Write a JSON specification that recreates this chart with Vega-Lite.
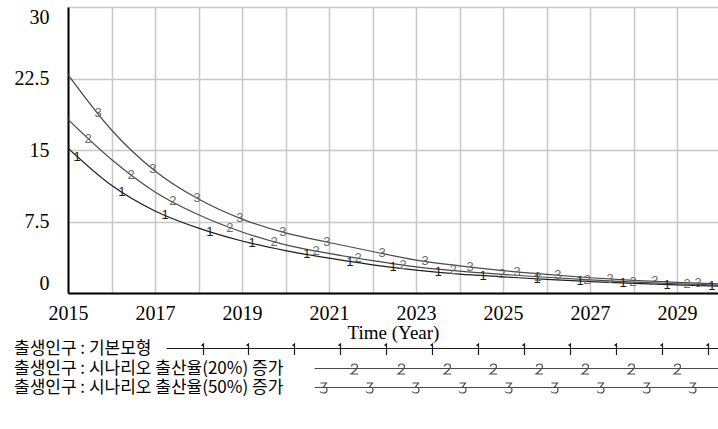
{
  "$schema": "https://vega.github.io/schema/vega-lite/v6.json",
  "autosize": "none",
  "width": 650,
  "height": 286,
  "padding": {"left": 68, "top": 7, "right": 0, "bottom": 136},
  "background": "white",
  "config": {
    "view": {"stroke": null},
    "style": {"guide-title": {"fontWeight": "normal"}},
    "axis": {
      "labelFont": "Liberation Serif",
      "labelFontSize": 20,
      "labelColor": "black",
      "titleFont": "Liberation Serif",
      "titleFontSize": 19,
      "titleFontWeight": 400,
      "titleColor": "black",
      "grid": true,
      "gridColor": "#c8c8c8",
      "gridWidth": 1.5,
      "ticks": false,
      "domainColor": "black",
      "domainWidth": 2
    }
  },
  "datasets": {
    "lines": [
      {"series": "출생인구 : 기본모형", "year": 2015, "value": 15.2},
      {"series": "출생인구 : 기본모형", "year": 2016, "value": 11.3},
      {"series": "출생인구 : 기본모형", "year": 2017, "value": 8.6},
      {"series": "출생인구 : 기본모형", "year": 2018, "value": 6.8},
      {"series": "출생인구 : 기본모형", "year": 2019, "value": 5.45},
      {"series": "출생인구 : 기본모형", "year": 2020, "value": 4.45},
      {"series": "출생인구 : 기본모형", "year": 2021, "value": 3.65},
      {"series": "출생인구 : 기본모형", "year": 2022, "value": 2.95},
      {"series": "출생인구 : 기본모형", "year": 2023, "value": 2.4},
      {"series": "출생인구 : 기본모형", "year": 2024, "value": 1.98},
      {"series": "출생인구 : 기본모형", "year": 2025, "value": 1.7},
      {"series": "출생인구 : 기본모형", "year": 2026, "value": 1.42},
      {"series": "출생인구 : 기본모형", "year": 2027, "value": 1.2},
      {"series": "출생인구 : 기본모형", "year": 2028, "value": 1.0},
      {"series": "출생인구 : 기본모형", "year": 2029, "value": 0.85},
      {"series": "출생인구 : 기본모형", "year": 2030, "value": 0.72},
      {"series": "출생인구 : 시나리오 출산율(20%) 증가", "year": 2015, "value": 18.2},
      {"series": "출생인구 : 시나리오 출산율(20%) 증가", "year": 2016, "value": 14.0},
      {"series": "출생인구 : 시나리오 출산율(20%) 증가", "year": 2017, "value": 10.6},
      {"series": "출생인구 : 시나리오 출산율(20%) 증가", "year": 2018, "value": 8.2},
      {"series": "출생인구 : 시나리오 출산율(20%) 증가", "year": 2019, "value": 6.4},
      {"series": "출생인구 : 시나리오 출산율(20%) 증가", "year": 2020, "value": 5.05},
      {"series": "출생인구 : 시나리오 출산율(20%) 증가", "year": 2021, "value": 4.15},
      {"series": "출생인구 : 시나리오 출산율(20%) 증가", "year": 2022, "value": 3.4},
      {"series": "출생인구 : 시나리오 출산율(20%) 증가", "year": 2023, "value": 2.75},
      {"series": "출생인구 : 시나리오 출산율(20%) 증가", "year": 2024, "value": 2.3},
      {"series": "출생인구 : 시나리오 출산율(20%) 증가", "year": 2025, "value": 1.95},
      {"series": "출생인구 : 시나리오 출산율(20%) 증가", "year": 2026, "value": 1.65},
      {"series": "출생인구 : 시나리오 출산율(20%) 증가", "year": 2027, "value": 1.38},
      {"series": "출생인구 : 시나리오 출산율(20%) 증가", "year": 2028, "value": 1.15},
      {"series": "출생인구 : 시나리오 출산율(20%) 증가", "year": 2029, "value": 0.97},
      {"series": "출생인구 : 시나리오 출산율(20%) 증가", "year": 2030, "value": 0.82},
      {"series": "출생인구 : 시나리오 출산율(50%) 증가", "year": 2015, "value": 22.9},
      {"series": "출생인구 : 시나리오 출산율(50%) 증가", "year": 2016, "value": 17.1},
      {"series": "출생인구 : 시나리오 출산율(50%) 증가", "year": 2017, "value": 12.8},
      {"series": "출생인구 : 시나리오 출산율(50%) 증가", "year": 2018, "value": 9.85},
      {"series": "출생인구 : 시나리오 출산율(50%) 증가", "year": 2019, "value": 7.75},
      {"series": "출생인구 : 시나리오 출산율(50%) 증가", "year": 2020, "value": 6.3},
      {"series": "출생인구 : 시나리오 출산율(50%) 증가", "year": 2021, "value": 5.3},
      {"series": "출생인구 : 시나리오 출산율(50%) 증가", "year": 2022, "value": 4.35},
      {"series": "출생인구 : 시나리오 출산율(50%) 증가", "year": 2023, "value": 3.45},
      {"series": "출생인구 : 시나리오 출산율(50%) 증가", "year": 2024, "value": 2.85},
      {"series": "출생인구 : 시나리오 출산율(50%) 증가", "year": 2025, "value": 2.35},
      {"series": "출생인구 : 시나리오 출산율(50%) 증가", "year": 2026, "value": 1.95},
      {"series": "출생인구 : 시나리오 출산율(50%) 증가", "year": 2027, "value": 1.6},
      {"series": "출생인구 : 시나리오 출산율(50%) 증가", "year": 2028, "value": 1.33},
      {"series": "출생인구 : 시나리오 출산율(50%) 증가", "year": 2029, "value": 1.12},
      {"series": "출생인구 : 시나리오 출산율(50%) 증가", "year": 2030, "value": 0.95}
    ],
    "markers": [
      {"no": 1, "year": 2015.21, "value": 14.3},
      {"no": 1, "year": 2016.24, "value": 10.6},
      {"no": 1, "year": 2017.23, "value": 8.15},
      {"no": 1, "year": 2018.26, "value": 6.45},
      {"no": 1, "year": 2019.23, "value": 5.2},
      {"no": 1, "year": 2020.49, "value": 4.05},
      {"no": 1, "year": 2021.48, "value": 3.3},
      {"no": 1, "year": 2022.47, "value": 2.7},
      {"no": 1, "year": 2023.51, "value": 2.2},
      {"no": 1, "year": 2024.54, "value": 1.83},
      {"no": 1, "year": 2025.78, "value": 1.48},
      {"no": 1, "year": 2026.77, "value": 1.25},
      {"no": 1, "year": 2027.76, "value": 1.04},
      {"no": 1, "year": 2028.77, "value": 0.88},
      {"no": 1, "year": 2029.8, "value": 0.75},
      {"no": 2, "year": 2015.46, "value": 16.2},
      {"no": 2, "year": 2016.45, "value": 12.4},
      {"no": 2, "year": 2017.41, "value": 9.6},
      {"no": 2, "year": 2018.72, "value": 6.85},
      {"no": 2, "year": 2019.74, "value": 5.4},
      {"no": 2, "year": 2020.7, "value": 4.4},
      {"no": 2, "year": 2021.67, "value": 3.65},
      {"no": 2, "year": 2022.7, "value": 2.95},
      {"no": 2, "year": 2023.85, "value": 2.37},
      {"no": 2, "year": 2024.98, "value": 1.96},
      {"no": 2, "year": 2025.8, "value": 1.7},
      {"no": 2, "year": 2026.93, "value": 1.4},
      {"no": 2, "year": 2027.99, "value": 1.15},
      {"no": 2, "year": 2029.23, "value": 0.93},
      {"no": 3, "year": 2015.69, "value": 18.9},
      {"no": 3, "year": 2016.95, "value": 13.0},
      {"no": 3, "year": 2017.97, "value": 9.95},
      {"no": 3, "year": 2018.95, "value": 7.85},
      {"no": 3, "year": 2019.94, "value": 6.38},
      {"no": 3, "year": 2020.95, "value": 5.35},
      {"no": 3, "year": 2022.22, "value": 4.15},
      {"no": 3, "year": 2023.21, "value": 3.32},
      {"no": 3, "year": 2024.24, "value": 2.73},
      {"no": 3, "year": 2025.32, "value": 2.22},
      {"no": 3, "year": 2026.26, "value": 1.85},
      {"no": 3, "year": 2027.46, "value": 1.48},
      {"no": 3, "year": 2028.49, "value": 1.22},
      {"no": 3, "year": 2029.48, "value": 1.04}
    ]
  },
  "encoding": {
    "x": {
      "field": "year",
      "type": "quantitative",
      "scale": {"domain": [2015, 2029.94], "nice": false, "zero": false},
      "axis": {
        "title": "Time (Year)",
        "titleFontWeight": 400,
        "titleFont": "Liberation Serif",
        "titleFontSize": 19,
        "values": [2015, 2016, 2017, 2018, 2019, 2020, 2021, 2022, 2023, 2024, 2025, 2026, 2027, 2028, 2029],
        "labelExpr": "datum.value % 2 == 1 ? '' + datum.value : ''",
        "labelOverlap": false,
        "labelFlush": false,
        "labelPadding": 10,
        "titlePadding": 0
      }
    },
    "y": {
      "field": "value",
      "type": "quantitative",
      "scale": {"domain": [0, 30], "nice": false},
      "axis": {
        "title": null,
        "values": [0, 7.5, 15, 22.5, 30],
        "labelExpr": "'' + datum.value",
        "labelFlush": true,
        "labelOverlap": false,
        "labelPadding": 19
      }
    }
  },
  "layer": [
    {
      "data": {"values": [{}]},
      "mark": {"type": "rule", "color": "#1a1a1a", "strokeWidth": 2},
      "encoding": {"x": null, "y": {"datum": 30, "type": "quantitative"}}
    },
    {
      "data": {"name": "lines"},
      "mark": {"type": "line", "interpolate": "monotone", "clip": true, "strokeWidth": 1.2},
      "encoding": {
        "color": {
          "field": "series",
          "type": "nominal",
          "scale": {
            "domain": ["출생인구 : 기본모형", "출생인구 : 시나리오 출산율(20%) 증가", "출생인구 : 시나리오 출산율(50%) 증가"],
            "range": ["#1e1e1e", "#4a4a4a", "#4a4a4a"]
          },
          "legend": {
            "orient": "none",
            "legendX": -68,
            "legendY": 333,
            "title": null,
            "direction": "vertical",
            "padding": 0,
            "symbolSize": 4,
            "symbolStrokeWidth": 1.2,
            "labelFont": "Noto Sans CJK KR",
            "labelFontSize": 17,
            "labelColor": "black",
            "labelLimit": 600,
            "labelOffset": -3,
            "rowPadding": 1,
            "encode": {
              "symbols": {
                "update": {
                  "fill": {"value": "transparent"},
                  "shape": {"signal": "datum.value === '출생인구 : 기본모형' ? 'M158,0H720M193,-3L195,-4.5V6.5M238,-3L240,-4.5V6.5M284,-3L286,-4.5V6.5M330,-3L332,-4.5V6.5M376,-3L378,-4.5V6.5M422,-3L424,-4.5V6.5M468,-3L470,-4.5V6.5M514,-3L516,-4.5V6.5M560,-3L562,-4.5V6.5M606,-3L608,-4.5V6.5M652,-3L654,-4.5V6.5M698,-3L700,-4.5V6.5' : datum.value === '출생인구 : 시나리오 출산율(20%) 증가' ? 'M306,0H720M343,-2Q343,-4.5,346,-4.5Q349,-4.5,349,-2Q349,0.5,342.5,5.5H349.5M390,-2Q390,-4.5,393,-4.5Q396,-4.5,396,-2Q396,0.5,389.5,5.5H396.5M436,-2Q436,-4.5,439,-4.5Q442,-4.5,442,-2Q442,0.5,435.5,5.5H442.5M482,-2Q482,-4.5,485,-4.5Q488,-4.5,488,-2Q488,0.5,481.5,5.5H488.5M528,-2Q528,-4.5,531,-4.5Q534,-4.5,534,-2Q534,0.5,527.5,5.5H534.5M574,-2Q574,-4.5,577,-4.5Q580,-4.5,580,-2Q580,0.5,573.5,5.5H580.5M620,-2Q620,-4.5,623,-4.5Q626,-4.5,626,-2Q626,0.5,619.5,5.5H626.5M666,-2Q666,-4.5,669,-4.5Q672,-4.5,672,-2Q672,0.5,665.5,5.5H672.5M712,-2Q712,-4.5,715,-4.5Q718,-4.5,718,-2Q718,0.5,711.5,5.5H718.5' : 'M306,0H720M312,-4.5H318L315,-0.5Q318.5,-0.5,318.5,2.5Q318.5,5.5,315,5.5Q312.5,5.5,311.5,4M358,-4.5H364L361,-0.5Q364.5,-0.5,364.5,2.5Q364.5,5.5,361,5.5Q358.5,5.5,357.5,4M404,-4.5H410L407,-0.5Q410.5,-0.5,410.5,2.5Q410.5,5.5,407,5.5Q404.5,5.5,403.5,4M451,-4.5H457L454,-0.5Q457.5,-0.5,457.5,2.5Q457.5,5.5,454,5.5Q451.5,5.5,450.5,4M497,-4.5H503L500,-0.5Q503.5,-0.5,503.5,2.5Q503.5,5.5,500,5.5Q497.5,5.5,496.5,4M543,-4.5H549L546,-0.5Q549.5,-0.5,549.5,2.5Q549.5,5.5,546,5.5Q543.5,5.5,542.5,4M589,-4.5H595L592,-0.5Q595.5,-0.5,595.5,2.5Q595.5,5.5,592,5.5Q589.5,5.5,588.5,4M635,-4.5H641L638,-0.5Q641.5,-0.5,641.5,2.5Q641.5,5.5,638,5.5Q635.5,5.5,634.5,4M681,-4.5H687L684,-0.5Q687.5,-0.5,687.5,2.5Q687.5,5.5,684,5.5Q681.5,5.5,680.5,4'"}
                }
              }
            }
          }
        }
      }
    },
    {
      "data": {"name": "markers"},
      "transform": [{"filter": "datum.no == 1"}],
      "mark": {"type": "text", "font": "Liberation Sans", "fontSize": 13, "color": "#1e1e1e", "baseline": "middle", "align": "center", "clip": true},
      "encoding": {"text": {"field": "no", "type": "nominal"}}
    },
    {
      "data": {"name": "markers"},
      "transform": [{"filter": "datum.no != 1"}],
      "mark": {"type": "text", "font": "Liberation Sans", "fontSize": 13, "color": "#6a6a6a", "baseline": "middle", "align": "center", "clip": true},
      "encoding": {"text": {"field": "no", "type": "nominal"}}
    }
  ]
}
